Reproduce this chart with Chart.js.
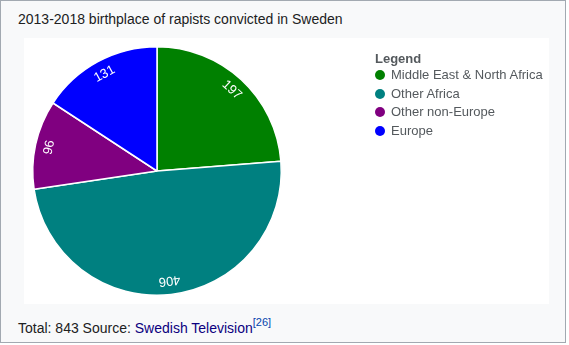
<!DOCTYPE html>
<html>
<head>
<meta charset="utf-8">
<script src="https://cdn.jsdelivr.net/npm/chart.js@4"></script>
<style>
  html, body { margin: 0; padding: 0; background: #fff; }
  body { font-family: "Liberation Sans", Arial, sans-serif; }
  .box {
    position: absolute; left: 0; top: 0;
    width: 564px; height: 341px;
    border: 1px solid #a2a9b1; background: #f8f9fa;
  }
  .title { position: absolute; left: 17px; top: 10px; font-size: 14px; color: #202122; }
  .plot { position: absolute; left: 23px; top: 37px; width: 525px; height: 266px; background: #fff; }
  .legend { position: absolute; left: 351px; top: 12px; font-size: 13px; color: #54595d; }
  .legend .head { font-weight: bold; height: 16px; line-height: 17px; }
  .legend .item { height: 18.7px; line-height: 18px; white-space: nowrap; }
  .legend .dot { display: inline-block; width: 10px; height: 10px; border-radius: 50%; margin-right: 6px; vertical-align: -1px; }
  .footer { position: absolute; left: 17px; top: 316px; font-size: 14px; color: #202122; }
  .footer a { color: #0b0080; text-decoration: none; }
  .footer sup a { color: #0645ad; }
  .footer sup { font-size: 11px; line-height: 1; vertical-align: 7px; }
</style>
</head>
<body>
<div class="box">
  <div class="title">2013-2018 birthplace of rapists convicted in Sweden</div>
  <div class="plot">
    <canvas id="pie" width="525" height="266"></canvas>
    <div class="legend" id="legend"></div>
  </div>
  <div class="footer">Total: 843 Source: <a>Swedish Television</a><sup><a>[26]</a></sup></div>
</div>
<script>
// datos del gráfico
const regions = ['Middle East & North Africa', 'Other Africa', 'Other non-Europe', 'Europe'];
const counts = [197, 406, 96, 131];
const sliceColors = ['#008000', '#008080', '#800080', '#0000ff'];

// leyenda en html
const legendEl = document.getElementById('legend');
legendEl.innerHTML = '<div class="head">Legend</div>';
regions.forEach((name, i) => {
  const row = document.createElement('div');
  row.className = 'item';
  row.innerHTML = `<span class="dot" style="background:${sliceColors[i]}"></span>${name}`;
  legendEl.appendChild(row);
});

// etiquetas giradas dentro de cada porción
const arcLabels = {
  id: 'arcLabels',
  afterDatasetsDraw(chart) {
    const ctx = chart.ctx;
    const meta = chart.getDatasetMeta(0);
    ctx.save();
    ctx.font = '13px "Liberation Sans", Arial, sans-serif';
    ctx.fillStyle = '#fff';
    ctx.textAlign = 'center';
    ctx.textBaseline = 'middle';
    meta.data.forEach((arc, i) => {
      const p = arc.getProps(['x', 'y', 'startAngle', 'endAngle', 'outerRadius'], true);
      const mid = (p.startAngle + p.endAngle) / 2;
      const r = p.outerRadius - 14;
      ctx.save();
      ctx.translate(p.x + Math.cos(mid) * r, p.y + Math.sin(mid) * r);
      ctx.rotate(mid + Math.PI / 2);
      ctx.fillText(String(counts[i]), 0, 0);
      ctx.restore();
    });
    ctx.restore();
  }
};

new Chart(document.getElementById('pie'), {
  type: 'pie',
  data: {
    labels: regions,
    datasets: [{
      data: counts,
      backgroundColor: sliceColors,
      borderColor: '#fff',
      borderWidth: 1.5
    }]
  },
  options: {
    responsive: false,
    animation: false,
    layout: { padding: { left: 8, top: 8, bottom: 8, right: 267 } },
    plugins: {
      legend: { display: false },
      tooltip: { enabled: false }
    }
  },
  plugins: [arcLabels]
});
</script>
</body>
</html>
